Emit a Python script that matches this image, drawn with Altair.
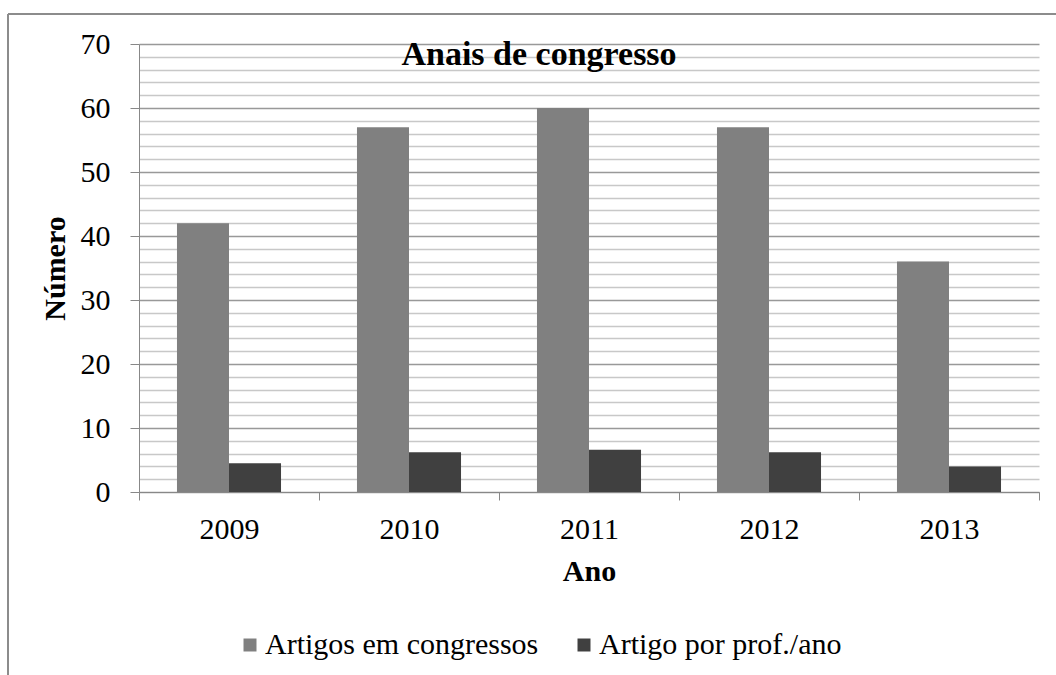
import altair as alt
import pandas as pd

anos = ["2009", "2010", "2011", "2012", "2013"]
artigos = [42, 57, 60, 57, 36]
por_prof = [4.5, 6.2, 6.6, 6.2, 4.0]
series = ["Artigos em congressos", "Artigo por prof./ano"]
cores = ["#808080", "#404040"]
titulo = "Anais de congresso"
y_ticks = list(range(0, 71, 2))

rows = []
for a, v1, v2 in zip(anos, artigos, por_prof):
    rows.append({"Ano": a, "Serie": series[0], "Valor": v1})
    rows.append({"Ano": a, "Serie": series[1], "Valor": v2})
df = pd.DataFrame(rows)

FONT = "Liberation Serif"
major = "datum.value % 10 === 0"

bars = alt.Chart(df).mark_bar().encode(
    x=alt.X(
        "Ano:N", sort=anos,
        scale=alt.Scale(paddingInner=0, paddingOuter=0),
        axis=alt.Axis(
            title="Ano", labelAngle=0, tickBand="extent", grid=False,
            domainColor="#888888", tickColor="#888888", tickSize=8,
            labelFont=FONT, labelFontSize=30, labelColor="black", labelPadding=14,
            titleFont=FONT, titleFontSize=30, titleFontWeight="bold", titleColor="black",
            titlePadding=12,
        ),
    ),
    xOffset=alt.XOffset(
        "Serie:N", sort=series,
        scale=alt.Scale(paddingInner=0, paddingOuter=0.73),
    ),
    y=alt.Y(
        "Valor:Q",
        scale=alt.Scale(domain=[0, 70], nice=False),
        axis=alt.Axis(
            title="Número", values=y_ticks,
            labelExpr=f"{major} ? datum.label : ''",
            gridColor={"condition": {"test": major, "value": "#999999"}, "value": "#c8c8c8"},
            gridWidth=1.5,
            tickColor={"condition": {"test": major, "value": "#888888"}, "value": "transparent"},
            tickSize=9, domainColor="#888888",
            labelFont=FONT, labelFontSize=30, labelColor="black", labelPadding=20,
            titleFont=FONT, titleFontSize=30, titleFontWeight="bold", titleColor="black",
            titlePadding=10,
        ),
    ),
    color=alt.Color(
        "Serie:N", sort=series,
        scale=alt.Scale(domain=series, range=cores),
        legend=alt.Legend(
            title=None, orient="none", legendX=96, legendY=586, direction="horizontal",
            symbolType="square", symbolSize=169, symbolStrokeWidth=0,
            labelFont=FONT, labelFontSize=30, labelColor="black", labelLimit=500,
            labelOffset=0, columnPadding=30,
        ),
    ),
)

title_layer = alt.Chart(pd.DataFrame({"t": [titulo]})).mark_text(
    font=FONT, fontSize=34, fontWeight="bold", align="center",
    baseline="alphabetic", color="black",
).encode(text="t:N", x=alt.value(400), y=alt.value(21))

border_df = pd.DataFrame({"k": [0]})
border_left = alt.Chart(border_df).mark_rule(color="#8c8c8c", strokeWidth=2).encode(
    x=alt.value(-131), y=alt.value(-30), y2=alt.value(700)
)
border_top = alt.Chart(border_df).mark_rule(color="#8c8c8c", strokeWidth=2).encode(
    x=alt.value(-131), x2=alt.value(1000), y=alt.value(-30)
)

chart = alt.layer(bars, title_layer, border_left, border_top).properties(
    width=900, height=448,
    padding={"left": 139, "top": 44, "right": 17, "bottom": 183},
    autosize=alt.AutoSizeParams(type="none"),
    background="white",
).configure_view(strokeWidth=0)

chart.save("out.html", embed_options={"renderer": "svg", "actions": False})
